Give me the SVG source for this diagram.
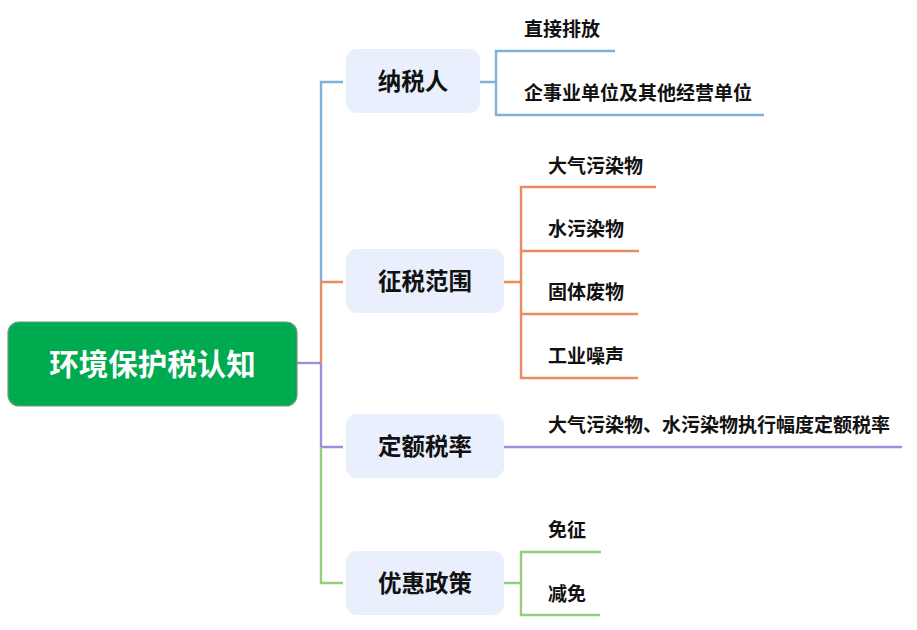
<svg xmlns="http://www.w3.org/2000/svg" width="917" height="630" viewBox="0 0 917 630">
<style>
text{font-family:"Noto Sans CJK SC","Noto Sans",sans-serif;font-weight:bold;fill:#111}
.lbl{font-size:19px}
.br{font-size:23.5px}
.node{fill:#e9effc}
.c{fill:none;stroke-width:2.4;stroke-linecap:butt;stroke-linejoin:miter}
.blue{stroke:#7fb1db}
.orange{stroke:#e98c62}
.purple{stroke:#9d8fe0}
.green{stroke:#94cd7f}
</style>
<rect width="917" height="630" fill="#ffffff"/>
<g id="connectors">
<path class="c purple" d="M297 363 H321"/>
<path class="c blue" d="M343 82 H321 V282"/>
<path class="c orange" d="M321 282 H343 M321 282 V363"/>
<path class="c purple" d="M321 363 V447 H343"/>
<path class="c green" d="M321 447 V583 H343"/>
<path class="c blue" d="M480 82 H496 M615 51 H496 V115 H764"/>
<path class="c orange" d="M504 282 H521 M656 187 H521 V378 H638 M521 251 H639 M521 314 H638"/>
<path class="c purple" d="M504 447 H902"/>
<path class="c green" d="M504 583 H521 M601 552 H521 V615 H600"/>
</g>
<g id="root">
<rect x="8" y="322" width="289" height="84" rx="11" fill="#00aa4f" stroke="#6d9a83" stroke-width="1.2"/>
<text x="152.5" y="374.5" font-size="29.5" text-anchor="middle" style="fill:#ffffff">环境保护税认知</text>
</g>
<g id="n1">
<rect class="node" x="346" y="49" width="134" height="64" rx="11"/>
<text class="br" x="413" y="90" text-anchor="middle">纳税人</text>
</g>
<g id="n2">
<rect class="node" x="346" y="249" width="158" height="64" rx="11"/>
<text class="br" x="425" y="290" text-anchor="middle">征税范围</text>
</g>
<g id="n3">
<rect class="node" x="346" y="414" width="158" height="64" rx="11"/>
<text class="br" x="425" y="455" text-anchor="middle">定额税率</text>
</g>
<g id="n4">
<rect class="node" x="346" y="551" width="158" height="64" rx="11"/>
<text class="br" x="425" y="592" text-anchor="middle">优惠政策</text>
</g>
<g id="n1a"><text class="lbl" x="524" y="36">直接排放</text></g>
<g id="n1b"><text class="lbl" x="524" y="100">企事业单位及其他经营单位</text></g>
<g id="n2a"><text class="lbl" x="548" y="173">大气污染物</text></g>
<g id="n2b"><text class="lbl" x="548" y="236">水污染物</text></g>
<g id="n2c"><text class="lbl" x="548" y="299">固体废物</text></g>
<g id="n2d"><text class="lbl" x="548" y="363">工业噪声</text></g>
<g id="n3a"><text class="lbl" x="548" y="432">大气污染物、水污染物执行幅度定额税率</text></g>
<g id="n4a"><text class="lbl" x="548" y="537">免征</text></g>
<g id="n4b"><text class="lbl" x="548" y="601">减免</text></g>
</svg>
